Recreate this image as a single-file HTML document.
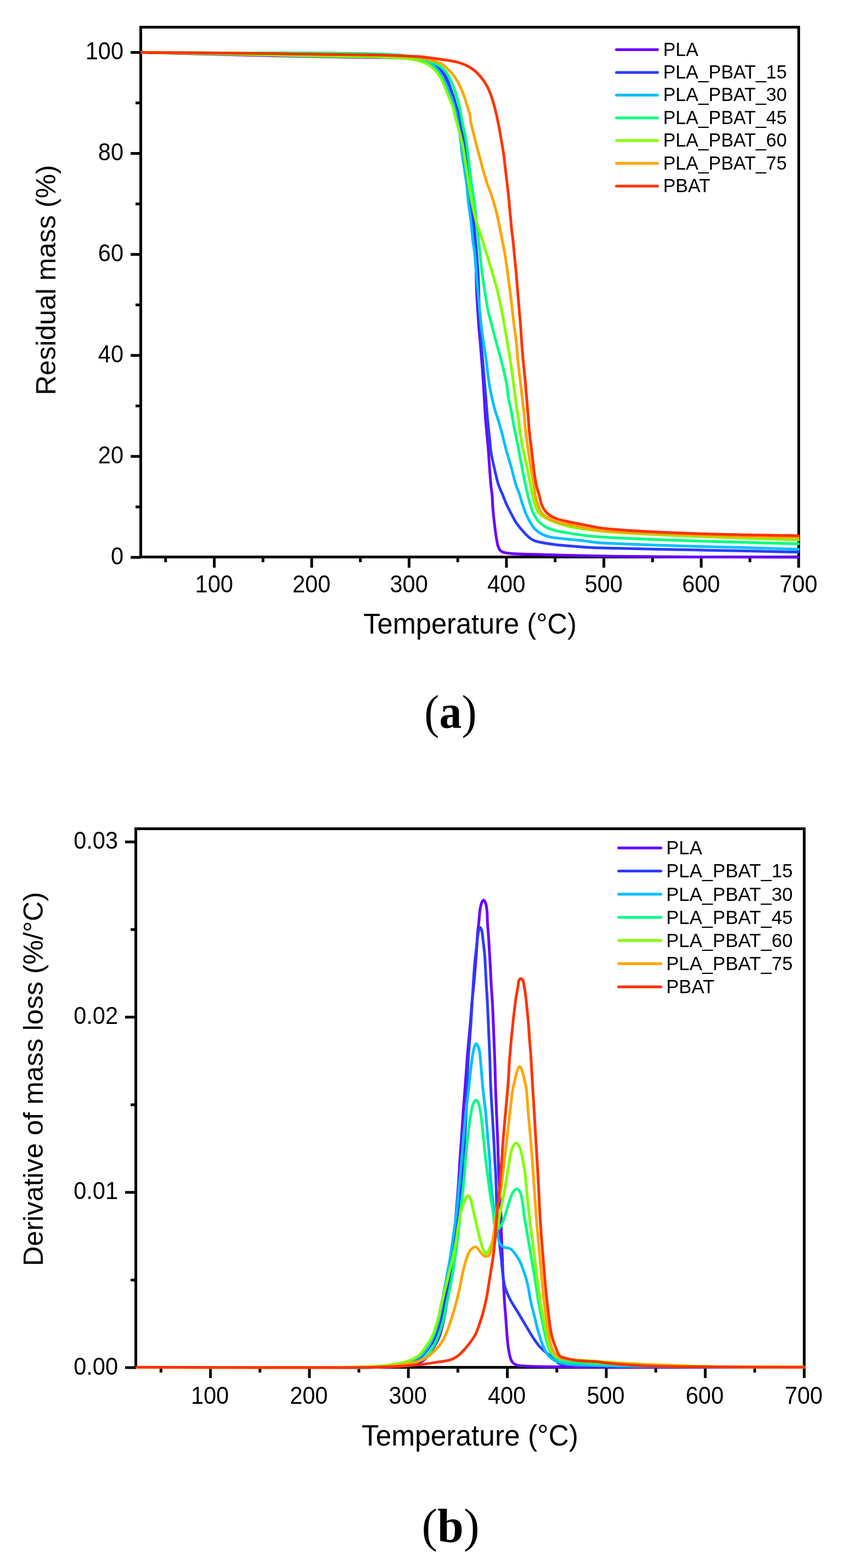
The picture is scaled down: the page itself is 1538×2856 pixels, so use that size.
<!DOCTYPE html>
<html><head><meta charset="utf-8"><title>TGA / DTG of PLA-PBAT blends</title>
<style>html,body{margin:0;padding:0;background:#fff;} svg{display:block;}</style></head>
<body><svg width="1538" height="2856" viewBox="0 0 1538 2856">
<rect width="1538" height="2856" fill="#fff"/>
<line x1="238.00" y1="1015.20" x2="256.50" y2="1015.20" stroke="#000" stroke-width="5" stroke-linecap="butt"/>
<line x1="247.00" y1="923.23" x2="256.50" y2="923.23" stroke="#000" stroke-width="5" stroke-linecap="butt"/>
<line x1="238.00" y1="831.26" x2="256.50" y2="831.26" stroke="#000" stroke-width="5" stroke-linecap="butt"/>
<line x1="247.00" y1="739.29" x2="256.50" y2="739.29" stroke="#000" stroke-width="5" stroke-linecap="butt"/>
<line x1="238.00" y1="647.32" x2="256.50" y2="647.32" stroke="#000" stroke-width="5" stroke-linecap="butt"/>
<line x1="247.00" y1="555.35" x2="256.50" y2="555.35" stroke="#000" stroke-width="5" stroke-linecap="butt"/>
<line x1="238.00" y1="463.38" x2="256.50" y2="463.38" stroke="#000" stroke-width="5" stroke-linecap="butt"/>
<line x1="247.00" y1="371.41" x2="256.50" y2="371.41" stroke="#000" stroke-width="5" stroke-linecap="butt"/>
<line x1="238.00" y1="279.44" x2="256.50" y2="279.44" stroke="#000" stroke-width="5" stroke-linecap="butt"/>
<line x1="247.00" y1="187.47" x2="256.50" y2="187.47" stroke="#000" stroke-width="5" stroke-linecap="butt"/>
<line x1="238.00" y1="95.50" x2="256.50" y2="95.50" stroke="#000" stroke-width="5" stroke-linecap="butt"/>
<line x1="301.76" y1="1014.50" x2="301.76" y2="1024.00" stroke="#000" stroke-width="5" stroke-linecap="butt"/>
<line x1="390.50" y1="1014.50" x2="390.50" y2="1034.00" stroke="#000" stroke-width="5" stroke-linecap="butt"/>
<line x1="479.24" y1="1014.50" x2="479.24" y2="1024.00" stroke="#000" stroke-width="5" stroke-linecap="butt"/>
<line x1="567.97" y1="1014.50" x2="567.97" y2="1034.00" stroke="#000" stroke-width="5" stroke-linecap="butt"/>
<line x1="656.71" y1="1014.50" x2="656.71" y2="1024.00" stroke="#000" stroke-width="5" stroke-linecap="butt"/>
<line x1="745.44" y1="1014.50" x2="745.44" y2="1034.00" stroke="#000" stroke-width="5" stroke-linecap="butt"/>
<line x1="834.17" y1="1014.50" x2="834.17" y2="1024.00" stroke="#000" stroke-width="5" stroke-linecap="butt"/>
<line x1="922.91" y1="1014.50" x2="922.91" y2="1034.00" stroke="#000" stroke-width="5" stroke-linecap="butt"/>
<line x1="1011.64" y1="1014.50" x2="1011.64" y2="1024.00" stroke="#000" stroke-width="5" stroke-linecap="butt"/>
<line x1="1100.38" y1="1014.50" x2="1100.38" y2="1034.00" stroke="#000" stroke-width="5" stroke-linecap="butt"/>
<line x1="1189.12" y1="1014.50" x2="1189.12" y2="1024.00" stroke="#000" stroke-width="5" stroke-linecap="butt"/>
<line x1="1277.85" y1="1014.50" x2="1277.85" y2="1034.00" stroke="#000" stroke-width="5" stroke-linecap="butt"/>
<line x1="1366.59" y1="1014.50" x2="1366.59" y2="1024.00" stroke="#000" stroke-width="5" stroke-linecap="butt"/>
<line x1="1455.32" y1="1014.50" x2="1455.32" y2="1034.00" stroke="#000" stroke-width="5" stroke-linecap="butt"/>
<rect x="256.5" y="49.5" width="1199.0" height="965.0" fill="none" stroke="#000" stroke-width="5" stroke-linejoin="miter"/>
<g fill="none" stroke-width="5" stroke-linejoin="round" stroke-linecap="round">
<path d="M258.5,95.5 C317.7,97.0 376.6,98.7 436.0,100.1 C495.8,101.5 563.5,102.7 616.0,103.7 C656.9,104.4 697.6,104.4 725.0,105.5 C741.6,106.2 753.4,106.1 765.0,108.0 C774.2,109.5 783.1,111.1 789.5,114.5 C794.4,117.1 797.6,120.8 801.0,124.5 C804.4,128.3 807.5,132.7 810.0,137.0 C812.4,141.1 814.1,145.1 816.0,149.5 C818.0,154.1 819.7,159.2 821.5,164.0 C823.2,168.8 825.0,173.6 826.5,178.5 C828.0,183.3 829.1,187.8 830.5,193.0 C832.2,199.1 834.3,206.2 836.0,213.0 C837.8,220.1 839.5,227.5 841.0,235.0 C842.5,242.8 843.8,251.3 845.0,259.0 C846.1,266.2 847.2,273.1 848.0,280.0 C848.8,286.7 849.3,292.4 850.0,300.0 C850.9,310.0 851.9,323.1 853.0,334.6 C854.1,346.1 855.1,357.7 856.5,369.2 C857.9,380.7 860.1,392.3 861.5,403.8 C862.9,415.3 864.1,428.2 865.0,438.4 C865.7,446.4 866.4,451.9 866.8,460.0 C867.3,470.2 867.2,483.1 867.5,494.6 C867.8,506.1 868.0,517.7 868.5,529.2 C869.0,540.7 869.8,552.3 870.5,563.8 C871.2,575.3 872.0,588.2 872.8,598.4 C873.4,606.4 874.1,612.0 874.8,620.0 C875.7,630.2 876.7,642.3 877.7,654.6 C878.8,668.7 880.1,685.9 881.0,700.0 C881.8,712.3 882.3,723.1 883.0,734.6 C883.7,746.1 884.4,757.7 885.3,769.2 C886.2,780.7 887.7,794.4 888.5,803.8 C889.1,810.2 889.4,813.8 889.9,820.0 C890.5,828.3 891.2,839.1 891.9,849.2 C892.7,860.2 893.7,874.4 894.6,883.8 C895.2,890.2 896.0,894.0 896.6,900.0 C897.3,907.6 897.5,917.3 898.2,926.0 C898.9,934.6 899.8,943.3 900.8,951.9 C901.8,960.6 902.9,970.1 904.2,977.9 C905.3,984.3 906.2,990.8 907.7,995.2 C908.7,998.1 909.6,1000.3 911.1,1002.1 C912.5,1003.7 914.0,1004.7 916.3,1005.6 C920.0,1007.1 925.2,1007.5 931.9,1008.2 C944.1,1009.4 966.5,1009.3 983.8,1009.9 C1001.1,1010.5 1016.3,1011.1 1035.7,1011.6 C1060.4,1012.3 1087.4,1012.8 1120.0,1013.3 C1164.9,1013.9 1225.5,1014.2 1280.0,1014.5 C1337.0,1014.8 1396.7,1014.8 1455.0,1015.0" stroke="#6a00ff"/>
<path d="M258.5,95.5 C317.7,96.0 376.3,96.7 436.0,97.0 C496.8,97.3 567.4,96.7 620.0,97.5 C659.6,98.1 698.4,98.5 724.0,100.5 C739.1,101.7 748.6,102.6 760.0,105.0 C770.8,107.3 783.3,110.3 790.8,114.4 C795.9,117.2 798.9,120.5 802.3,124.2 C805.7,128.0 808.5,132.6 811.0,136.9 C813.3,140.9 814.9,144.7 816.7,149.0 C818.6,153.5 820.2,158.6 821.9,163.4 C823.6,168.2 825.6,173.0 827.1,177.9 C828.6,182.7 829.9,188.3 831.1,192.3 C832.0,195.3 832.7,196.6 833.6,200.0 C835.2,206.3 836.9,218.2 838.8,227.2 C840.7,236.3 843.3,245.2 845.0,254.3 C846.7,263.3 847.8,272.4 849.1,281.5 C850.4,290.6 851.8,299.7 852.6,308.7 C853.4,317.4 853.3,325.4 854.0,334.6 C854.9,345.3 856.2,357.7 857.7,369.2 C859.2,380.8 861.6,392.2 863.0,403.8 C864.4,415.3 865.3,428.2 866.3,438.4 C867.1,446.4 867.7,452.0 868.4,460.0 C869.3,470.2 870.4,483.1 871.1,494.6 C871.8,506.1 872.1,517.7 872.5,529.2 C872.8,540.7 872.9,552.3 873.2,563.8 C873.5,575.3 873.8,588.2 874.4,598.4 C874.8,606.4 875.3,612.0 876.0,620.0 C876.9,630.2 878.3,642.3 879.4,654.6 C880.7,668.7 882.1,685.9 883.3,700.0 C884.3,712.3 885.2,723.1 886.1,734.6 C887.1,746.1 887.9,757.7 889.0,769.2 C890.1,780.7 891.9,794.4 892.8,803.8 C893.4,810.2 893.3,813.8 894.2,820.0 C895.4,828.3 897.7,839.1 900.0,849.2 C902.5,860.3 905.5,874.5 908.6,883.8 C910.8,890.3 913.2,894.5 915.5,900.0 C917.8,905.7 919.8,911.6 922.4,917.3 C925.0,923.1 928.0,928.9 931.0,934.6 C934.0,940.4 936.8,946.3 940.6,951.9 C944.6,957.8 950.2,964.5 954.4,969.2 C957.5,972.7 959.9,975.3 963.1,977.9 C966.3,980.5 969.5,983.1 973.4,984.8 C977.5,986.6 982.1,987.2 987.3,988.2 C993.9,989.5 1002.0,990.7 1009.8,991.7 C1018.1,992.8 1026.4,993.5 1035.7,994.3 C1046.4,995.2 1057.7,996.2 1070.3,996.9 C1085.4,997.7 1100.2,998.0 1120.0,998.6 C1149.5,999.4 1191.8,1000.2 1230.0,1001.0 C1271.5,1001.9 1320.1,1002.8 1360.0,1003.6 C1394.1,1004.3 1423.3,1004.9 1455.0,1005.6" stroke="#2b3bff"/>
<path d="M258.5,95.5 C317.7,96.2 376.3,96.8 436.0,97.5 C496.8,98.2 567.4,98.6 620.0,99.5 C659.6,100.2 698.3,100.3 724.0,102.0 C739.1,103.0 749.2,103.4 760.0,106.0 C769.3,108.3 778.5,111.6 785.0,115.6 C789.9,118.6 793.1,122.1 796.5,126.0 C799.9,129.9 802.6,134.8 805.2,139.2 C807.7,143.4 810.0,147.5 812.1,151.9 C814.3,156.5 816.1,161.8 817.9,166.3 C819.5,170.4 821.0,173.8 822.5,177.9 C824.1,182.4 825.7,187.5 827.1,192.3 C828.5,197.1 829.8,201.3 831.1,206.7 C832.7,213.5 834.1,222.1 835.5,230.0 C836.9,238.0 838.2,246.0 839.3,254.3 C840.5,263.1 841.1,272.4 842.3,281.5 C843.5,290.6 845.0,299.6 846.4,308.7 C847.7,317.8 849.2,326.4 850.4,335.9 C851.7,346.4 852.3,358.0 853.6,369.2 C854.9,380.6 856.9,392.3 858.3,403.8 C859.6,415.3 860.5,428.2 861.7,438.4 C862.7,446.5 863.9,451.9 864.8,460.0 C866.0,470.2 866.7,483.1 867.7,494.6 C868.7,506.1 869.6,517.7 870.6,529.2 C871.7,540.7 872.9,552.3 874.0,563.8 C875.2,575.3 876.3,588.2 877.5,598.4 C878.5,606.5 879.4,612.0 880.6,620.0 C882.1,630.2 884.1,642.3 885.8,654.6 C887.8,668.7 889.5,687.4 891.6,700.0 C893.1,709.0 894.5,715.4 896.2,723.1 C897.9,730.8 899.6,738.5 901.7,746.1 C903.9,753.8 906.9,761.5 909.2,769.2 C911.5,776.9 913.6,784.6 915.6,792.3 C917.6,800.0 919.1,806.9 921.3,815.3 C924.0,825.5 927.9,837.8 931.1,849.2 C934.3,860.7 937.4,874.5 940.4,883.8 C942.5,890.3 944.7,894.5 946.6,900.0 C948.5,905.6 949.9,911.6 951.8,917.3 C953.7,923.1 955.5,928.9 957.9,934.6 C960.4,940.4 963.4,946.8 966.5,951.9 C969.2,956.4 971.7,960.5 975.2,964.0 C978.7,967.5 983.0,970.4 987.3,972.7 C991.6,975.0 995.7,976.5 1001.1,977.9 C1008.3,979.7 1017.8,980.2 1027.1,981.3 C1037.8,982.5 1051.0,983.6 1061.7,984.8 C1071.0,985.9 1078.5,987.3 1087.6,988.2 C1097.8,989.1 1106.0,989.4 1120.0,990.0 C1145.8,991.2 1191.8,992.8 1230.0,994.0 C1271.5,995.3 1320.1,996.4 1360.0,997.6 C1394.1,998.6 1423.3,999.5 1455.0,1000.5" stroke="#00bfff"/>
<path d="M258.5,95.5 C317.7,95.8 376.3,96.3 436.0,96.5 C496.8,96.8 567.4,96.2 620.0,97.0 C659.6,97.6 698.4,98.0 724.0,100.0 C739.1,101.2 749.8,102.3 760.0,104.5 C767.7,106.2 773.7,108.6 780.0,110.8 C785.8,112.9 791.6,114.6 796.5,117.3 C800.9,119.8 804.7,122.6 808.1,126.0 C811.5,129.4 814.3,133.6 816.7,137.5 C819.0,141.2 820.6,144.9 822.5,149.0 C824.5,153.5 826.6,158.6 828.3,163.4 C830.0,168.2 831.5,173.1 832.9,177.9 C834.3,182.7 835.5,186.4 836.9,192.3 C839.0,201.4 841.2,216.3 843.4,227.2 C845.3,236.8 847.5,245.2 849.1,254.3 C850.7,263.3 851.7,272.4 852.9,281.5 C854.1,290.6 855.0,299.6 856.1,308.7 C857.2,317.8 858.1,326.4 859.4,335.9 C860.9,346.5 863.2,358.0 864.6,369.2 C866.1,380.6 866.9,392.3 868.1,403.8 C869.4,415.3 870.9,428.2 872.1,438.4 C873.0,446.4 873.6,452.0 874.5,460.0 C875.6,470.2 876.6,483.1 878.1,494.6 C879.6,506.2 881.5,517.7 883.3,529.2 C885.1,540.7 886.6,552.3 889.0,563.8 C891.4,575.4 895.1,588.2 897.7,598.4 C899.8,606.4 901.1,612.0 903.3,620.0 C906.0,630.2 909.8,642.2 912.9,654.6 C916.5,668.7 921.1,687.4 923.3,700.0 C924.9,708.9 924.9,715.4 926.2,723.1 C927.5,730.8 929.6,738.4 931.1,746.1 C932.6,753.8 933.8,761.5 935.2,769.2 C936.7,776.9 938.3,784.6 939.8,792.3 C941.3,800.0 942.8,806.9 944.4,815.3 C946.4,825.5 948.5,837.9 950.7,849.2 C952.9,860.7 955.7,874.4 957.7,883.8 C959.1,890.2 960.0,894.5 961.3,900.0 C962.7,905.7 964.0,911.6 965.7,917.3 C967.4,923.1 969.2,929.3 971.7,934.6 C974.1,939.6 976.9,944.4 980.4,948.5 C983.8,952.5 987.8,956.0 992.5,958.8 C997.5,961.9 1003.4,963.9 1009.8,965.8 C1017.5,968.1 1026.4,969.3 1035.7,970.9 C1046.4,972.8 1057.7,974.7 1070.3,976.1 C1085.3,977.8 1100.2,978.5 1120.0,979.6 C1149.5,981.2 1191.8,982.7 1230.0,984.1 C1271.5,985.6 1320.1,986.9 1360.0,988.0 C1394.1,989.0 1423.3,989.7 1455.0,990.5" stroke="#00ff80"/>
<path d="M258.5,95.5 C317.7,96.7 376.3,97.7 436.0,99.0 C496.8,100.3 577.4,102.5 620.0,103.1 C642.6,103.4 654.6,103.0 671.9,103.4 C689.2,103.8 709.5,104.3 723.8,105.3 C734.0,106.0 741.8,106.6 749.8,107.9 C756.8,109.1 763.2,110.2 769.2,112.4 C774.9,114.5 780.7,117.7 785.0,120.8 C788.5,123.3 790.9,125.7 793.7,128.8 C796.7,132.2 799.8,136.2 802.3,140.4 C805.0,144.8 807.1,150.0 809.2,154.8 C811.3,159.6 813.1,164.4 815.0,169.2 C816.9,174.0 819.0,179.1 820.8,183.6 C822.4,187.7 824.0,190.8 825.4,195.2 C827.1,200.6 828.4,207.8 829.8,213.5 C831.0,218.4 832.1,222.7 833.3,227.2 C834.5,231.7 835.9,236.2 837.2,240.7 C838.5,245.2 839.8,249.7 840.9,254.3 C842.0,258.8 842.8,263.4 843.7,268.0 C844.6,272.5 845.2,276.2 846.1,281.5 C847.3,289.0 848.8,299.6 850.2,308.7 C851.6,317.8 853.0,326.4 854.5,335.9 C856.2,346.4 857.8,358.0 860.0,369.2 C862.3,380.7 864.9,392.3 868.1,403.8 C871.4,415.4 876.4,428.2 879.6,438.4 C882.1,446.4 883.6,452.0 886.0,460.0 C889.1,470.2 893.1,483.1 896.5,494.6 C899.9,506.1 903.4,517.6 906.3,529.2 C909.2,540.7 911.5,552.2 913.8,563.8 C916.1,575.3 918.4,588.2 920.2,598.4 C921.6,606.4 922.5,612.0 923.8,620.0 C925.5,630.2 927.7,642.3 929.6,654.6 C931.8,668.7 934.3,687.4 936.0,700.0 C937.2,709.0 937.9,715.4 938.9,723.1 C939.9,730.8 941.0,738.4 942.1,746.1 C943.2,753.8 944.4,761.5 945.5,769.2 C946.5,776.9 947.2,784.7 948.4,792.3 C949.6,799.8 950.9,806.4 952.5,814.6 C954.6,824.9 957.6,837.7 960.0,849.2 C962.4,860.7 965.1,874.4 966.9,883.8 C968.2,890.2 968.8,894.5 970.0,900.0 C971.3,905.7 972.3,911.6 974.3,917.3 C976.3,923.2 978.8,930.4 982.1,934.6 C984.6,937.8 987.6,939.5 990.7,941.5 C993.9,943.6 996.4,945.0 1001.0,947.0 C1009.1,950.5 1022.8,955.4 1035.7,958.5 C1051.1,962.2 1072.3,964.6 1087.6,966.5 C1099.6,968.0 1105.1,968.4 1120.0,969.5 C1153.1,971.9 1225.5,975.3 1280.0,977.6 C1337.0,980.0 1396.7,981.5 1455.0,983.5" stroke="#80ff00"/>
<path d="M258.5,95.5 C317.7,96.0 376.3,96.4 436.0,97.0 C496.8,97.6 567.4,98.3 620.0,99.2 C659.6,99.9 698.3,100.3 724.0,101.5 C739.1,102.2 749.1,102.4 760.0,104.0 C769.2,105.4 777.5,107.8 785.0,109.8 C791.3,111.5 797.3,112.5 802.3,115.0 C806.7,117.2 810.1,120.3 813.8,123.6 C817.8,127.2 822.0,131.5 825.4,135.8 C828.7,140.0 831.5,144.7 834.0,149.0 C836.3,152.9 837.9,156.5 839.8,160.6 C841.8,165.1 843.8,169.9 845.6,175.0 C847.6,180.5 849.5,186.5 851.3,192.3 C853.1,198.1 855.3,204.6 856.4,210.0 C857.3,214.5 857.1,218.1 857.9,222.6 C858.9,228.0 860.6,233.8 862.1,240.0 C863.9,247.2 866.0,255.5 868.0,263.3 C870.0,271.1 872.1,278.8 874.2,286.6 C876.3,294.4 878.2,302.2 880.4,309.9 C882.6,317.7 884.8,325.5 887.4,333.2 C890.0,341.0 893.3,348.7 895.9,356.5 C898.5,364.2 900.8,372.0 902.9,379.8 C905.0,387.5 906.6,395.2 908.3,403.0 C910.0,410.7 911.7,419.6 913.0,426.3 C914.0,431.5 914.7,435.0 915.7,440.0 C916.9,446.0 918.3,452.4 919.6,460.0 C921.3,469.9 923.2,483.1 924.8,494.6 C926.4,506.1 928.0,517.7 929.4,529.2 C930.8,540.7 932.1,552.3 933.4,563.8 C934.8,575.3 936.2,588.2 937.5,598.4 C938.6,606.5 939.7,611.9 940.6,620.0 C941.7,630.2 942.3,643.1 943.4,654.6 C944.6,666.1 946.1,677.7 947.5,689.2 C948.8,700.7 950.2,712.3 951.5,723.8 C952.8,735.3 954.5,748.2 955.5,758.4 C956.3,766.4 956.3,772.0 957.1,780.0 C958.2,790.2 960.1,803.1 961.7,814.6 C963.3,826.1 965.1,837.7 966.9,849.2 C968.7,860.7 971.2,874.4 972.7,883.8 C973.7,890.2 974.1,894.5 975.2,900.0 C976.3,905.7 977.5,911.6 979.5,917.3 C981.5,923.2 983.6,929.9 987.3,934.6 C990.9,939.1 996.0,942.1 1001.1,945.0 C1006.4,948.0 1012.0,950.0 1018.4,951.9 C1026.1,954.2 1035.1,955.2 1044.4,957.1 C1055.1,959.2 1066.9,962.2 1079.0,964.0 C1092.0,966.0 1103.0,967.1 1120.0,968.4 C1147.8,970.5 1191.8,971.7 1230.0,973.2 C1271.5,974.8 1320.1,976.6 1360.0,977.6 C1394.1,978.4 1423.3,978.5 1455.0,979.0" stroke="#ffa500"/>
<path d="M258.5,95.5 C317.7,96.0 376.3,96.3 436.0,97.0 C496.8,97.7 577.4,99.0 620.0,99.5 C642.6,99.8 654.7,99.8 672.0,100.1 C689.3,100.4 707.9,100.8 724.0,101.4 C737.9,101.9 751.9,102.3 763.0,103.1 C771.4,103.7 777.6,104.6 785.0,105.5 C792.6,106.4 800.4,107.5 808.1,108.7 C815.8,109.9 824.0,110.9 831.1,112.7 C837.3,114.3 842.8,115.9 848.4,118.5 C854.2,121.2 860.5,125.2 865.0,128.8 C868.6,131.6 870.8,134.2 873.7,137.5 C877.1,141.3 880.8,145.7 883.8,150.5 C887.1,155.7 889.9,161.6 892.5,167.8 C895.3,174.5 897.6,182.0 899.7,189.4 C901.9,196.9 903.8,204.9 905.5,212.5 C907.1,219.8 908.4,226.7 909.8,234.1 C911.3,242.0 912.7,250.7 914.1,258.6 C915.4,266.0 916.7,273.1 917.7,280.2 C918.7,286.9 919.2,293.4 920.0,300.0 C920.8,306.7 921.7,313.3 922.5,320.0 C923.3,326.7 924.0,333.5 924.8,340.2 C925.5,346.9 926.3,353.7 927.0,360.4 C927.7,367.1 928.2,373.9 928.8,380.6 C929.4,387.3 930.2,394.1 930.8,400.8 C931.4,407.5 931.9,414.4 932.6,421.0 C933.3,427.4 934.4,433.6 935.1,440.0 C935.8,446.6 936.2,452.4 936.9,460.0 C937.9,470.0 939.3,483.1 940.4,494.6 C941.4,506.1 942.3,517.7 943.2,529.2 C944.2,540.7 945.1,552.3 946.1,563.8 C947.1,575.3 948.2,588.2 949.0,598.4 C949.6,606.4 949.8,612.0 950.4,620.0 C951.1,630.2 952.2,643.1 953.2,654.6 C954.3,666.1 955.6,677.7 956.7,689.2 C957.8,700.7 958.6,712.3 959.6,723.8 C960.6,735.3 961.7,748.2 962.5,758.4 C963.1,766.4 963.3,772.0 964.0,780.0 C964.9,790.2 966.7,803.1 968.0,814.6 C969.4,826.1 970.6,837.7 972.1,849.2 C973.7,860.7 975.2,874.5 977.3,883.8 C978.7,890.3 980.6,894.5 982.1,900.0 C983.6,905.7 984.5,912.1 986.4,917.3 C988.1,921.8 990.0,925.9 992.5,929.4 C994.9,932.8 997.6,935.6 1001.1,938.1 C1005.0,940.9 1009.8,943.1 1015.0,945.0 C1021.1,947.3 1028.4,948.6 1035.7,950.2 C1043.9,952.0 1053.0,953.7 1061.7,955.4 C1070.3,957.1 1078.5,959.2 1087.6,960.6 C1097.8,962.2 1106.0,963.1 1120.0,964.3 C1145.8,966.5 1191.8,969.0 1230.0,970.6 C1271.5,972.4 1320.1,973.4 1360.0,974.3 C1394.1,975.1 1423.3,975.3 1455.0,975.8" stroke="#ff3300"/>
</g>
<text transform="translate(225.00,1027.50) scale(1.0,1.05)" x="0" y="0" font-size="41.5" text-anchor="end" style="font-family:'Liberation Sans',Arial,sans-serif;font-weight:normal" >0</text>
<text transform="translate(225.00,843.56) scale(1.0,1.05)" x="0" y="0" font-size="41.5" text-anchor="end" style="font-family:'Liberation Sans',Arial,sans-serif;font-weight:normal" >20</text>
<text transform="translate(225.00,659.62) scale(1.0,1.05)" x="0" y="0" font-size="41.5" text-anchor="end" style="font-family:'Liberation Sans',Arial,sans-serif;font-weight:normal" >40</text>
<text transform="translate(225.00,475.68) scale(1.0,1.05)" x="0" y="0" font-size="41.5" text-anchor="end" style="font-family:'Liberation Sans',Arial,sans-serif;font-weight:normal" >60</text>
<text transform="translate(225.00,291.74) scale(1.0,1.05)" x="0" y="0" font-size="41.5" text-anchor="end" style="font-family:'Liberation Sans',Arial,sans-serif;font-weight:normal" >80</text>
<text transform="translate(225.00,107.80) scale(1.0,1.05)" x="0" y="0" font-size="41.5" text-anchor="end" style="font-family:'Liberation Sans',Arial,sans-serif;font-weight:normal" >100</text>
<text transform="translate(390.20,1078.70) scale(1.0,1.05)" x="0" y="0" font-size="41.5" text-anchor="middle" style="font-family:'Liberation Sans',Arial,sans-serif;font-weight:normal" >100</text>
<text transform="translate(567.67,1078.70) scale(1.0,1.05)" x="0" y="0" font-size="41.5" text-anchor="middle" style="font-family:'Liberation Sans',Arial,sans-serif;font-weight:normal" >200</text>
<text transform="translate(745.14,1078.70) scale(1.0,1.05)" x="0" y="0" font-size="41.5" text-anchor="middle" style="font-family:'Liberation Sans',Arial,sans-serif;font-weight:normal" >300</text>
<text transform="translate(922.61,1078.70) scale(1.0,1.05)" x="0" y="0" font-size="41.5" text-anchor="middle" style="font-family:'Liberation Sans',Arial,sans-serif;font-weight:normal" >400</text>
<text transform="translate(1100.08,1078.70) scale(1.0,1.05)" x="0" y="0" font-size="41.5" text-anchor="middle" style="font-family:'Liberation Sans',Arial,sans-serif;font-weight:normal" >500</text>
<text transform="translate(1277.55,1078.70) scale(1.0,1.05)" x="0" y="0" font-size="41.5" text-anchor="middle" style="font-family:'Liberation Sans',Arial,sans-serif;font-weight:normal" >600</text>
<text transform="translate(1455.02,1078.70) scale(1.0,1.05)" x="0" y="0" font-size="41.5" text-anchor="middle" style="font-family:'Liberation Sans',Arial,sans-serif;font-weight:normal" >700</text>
<text transform="translate(856.50,1153.80) scale(1.0,1.015)" x="0" y="0" font-size="50.6" text-anchor="middle" style="font-family:'Liberation Sans',Arial,sans-serif;font-weight:normal" >Temperature (°C)</text>
<text x="0.00" y="0.00" font-size="50" text-anchor="middle" style="font-family:'Liberation Sans',Arial,sans-serif;font-weight:normal" transform="translate(101,510) rotate(-90)">Residual mass (%)</text>
<line x1="1123.30" y1="90.50" x2="1198.20" y2="90.50" stroke="#6a00ff" stroke-width="5" stroke-linecap="round"/>
<text transform="translate(1208.50,101.50) scale(1.0,1.02)" x="0" y="0" font-size="33.87" text-anchor="start" style="font-family:'Liberation Sans',Arial,sans-serif;font-weight:normal" >PLA</text>
<line x1="1123.30" y1="131.90" x2="1198.20" y2="131.90" stroke="#2b3bff" stroke-width="5" stroke-linecap="round"/>
<text transform="translate(1208.50,142.90) scale(1.0,1.02)" x="0" y="0" font-size="33.87" text-anchor="start" style="font-family:'Liberation Sans',Arial,sans-serif;font-weight:normal" >PLA_PBAT_15</text>
<line x1="1123.30" y1="173.30" x2="1198.20" y2="173.30" stroke="#00bfff" stroke-width="5" stroke-linecap="round"/>
<text transform="translate(1208.50,184.30) scale(1.0,1.02)" x="0" y="0" font-size="33.87" text-anchor="start" style="font-family:'Liberation Sans',Arial,sans-serif;font-weight:normal" >PLA_PBAT_30</text>
<line x1="1123.30" y1="214.70" x2="1198.20" y2="214.70" stroke="#00ff80" stroke-width="5" stroke-linecap="round"/>
<text transform="translate(1208.50,225.70) scale(1.0,1.02)" x="0" y="0" font-size="33.87" text-anchor="start" style="font-family:'Liberation Sans',Arial,sans-serif;font-weight:normal" >PLA_PBAT_45</text>
<line x1="1123.30" y1="256.10" x2="1198.20" y2="256.10" stroke="#80ff00" stroke-width="5" stroke-linecap="round"/>
<text transform="translate(1208.50,267.10) scale(1.0,1.02)" x="0" y="0" font-size="33.87" text-anchor="start" style="font-family:'Liberation Sans',Arial,sans-serif;font-weight:normal" >PLA_PBAT_60</text>
<line x1="1123.30" y1="297.50" x2="1198.20" y2="297.50" stroke="#ffa500" stroke-width="5" stroke-linecap="round"/>
<text transform="translate(1208.50,308.50) scale(1.0,1.02)" x="0" y="0" font-size="33.87" text-anchor="start" style="font-family:'Liberation Sans',Arial,sans-serif;font-weight:normal" >PLA_PBAT_75</text>
<line x1="1123.30" y1="338.90" x2="1198.20" y2="338.90" stroke="#ff3300" stroke-width="5" stroke-linecap="round"/>
<text transform="translate(1208.50,349.90) scale(1.0,1.02)" x="0" y="0" font-size="33.87" text-anchor="start" style="font-family:'Liberation Sans',Arial,sans-serif;font-weight:normal" >PBAT</text>
<text transform="translate(821,1326) scale(0.95,1)" x="0" y="0" font-size="86" text-anchor="middle" style="font-family:'Liberation Serif','Times New Roman',serif">(<tspan style="font-weight:bold">a</tspan>)</text>
<line x1="228.00" y1="2491.00" x2="247.50" y2="2491.00" stroke="#000" stroke-width="5" stroke-linecap="butt"/>
<line x1="238.00" y1="2331.41" x2="247.50" y2="2331.41" stroke="#000" stroke-width="5" stroke-linecap="butt"/>
<line x1="228.00" y1="2171.83" x2="247.50" y2="2171.83" stroke="#000" stroke-width="5" stroke-linecap="butt"/>
<line x1="238.00" y1="2012.24" x2="247.50" y2="2012.24" stroke="#000" stroke-width="5" stroke-linecap="butt"/>
<line x1="228.00" y1="1852.66" x2="247.50" y2="1852.66" stroke="#000" stroke-width="5" stroke-linecap="butt"/>
<line x1="238.00" y1="1693.07" x2="247.50" y2="1693.07" stroke="#000" stroke-width="5" stroke-linecap="butt"/>
<line x1="228.00" y1="1533.49" x2="247.50" y2="1533.49" stroke="#000" stroke-width="5" stroke-linecap="butt"/>
<line x1="293.34" y1="2490.50" x2="293.34" y2="2500.00" stroke="#000" stroke-width="5" stroke-linecap="butt"/>
<line x1="383.50" y1="2490.50" x2="383.50" y2="2510.00" stroke="#000" stroke-width="5" stroke-linecap="butt"/>
<line x1="473.67" y1="2490.50" x2="473.67" y2="2500.00" stroke="#000" stroke-width="5" stroke-linecap="butt"/>
<line x1="563.84" y1="2490.50" x2="563.84" y2="2510.00" stroke="#000" stroke-width="5" stroke-linecap="butt"/>
<line x1="654.00" y1="2490.50" x2="654.00" y2="2500.00" stroke="#000" stroke-width="5" stroke-linecap="butt"/>
<line x1="744.17" y1="2490.50" x2="744.17" y2="2510.00" stroke="#000" stroke-width="5" stroke-linecap="butt"/>
<line x1="834.34" y1="2490.50" x2="834.34" y2="2500.00" stroke="#000" stroke-width="5" stroke-linecap="butt"/>
<line x1="924.50" y1="2490.50" x2="924.50" y2="2510.00" stroke="#000" stroke-width="5" stroke-linecap="butt"/>
<line x1="1014.67" y1="2490.50" x2="1014.67" y2="2500.00" stroke="#000" stroke-width="5" stroke-linecap="butt"/>
<line x1="1104.84" y1="2490.50" x2="1104.84" y2="2510.00" stroke="#000" stroke-width="5" stroke-linecap="butt"/>
<line x1="1195.00" y1="2490.50" x2="1195.00" y2="2500.00" stroke="#000" stroke-width="5" stroke-linecap="butt"/>
<line x1="1285.17" y1="2490.50" x2="1285.17" y2="2510.00" stroke="#000" stroke-width="5" stroke-linecap="butt"/>
<line x1="1375.33" y1="2490.50" x2="1375.33" y2="2500.00" stroke="#000" stroke-width="5" stroke-linecap="butt"/>
<line x1="1465.50" y1="2490.50" x2="1465.50" y2="2510.00" stroke="#000" stroke-width="5" stroke-linecap="butt"/>
<rect x="247.5" y="1509.5" width="1218.0" height="981.0" fill="none" stroke="#000" stroke-width="5" stroke-linejoin="miter"/>
<g fill="none" stroke-width="5" stroke-linejoin="round" stroke-linecap="round">
<path d="M250.0,2490.5 C366.7,2490.5 518.7,2490.7 600.0,2490.5 C643.4,2490.4 674.2,2490.7 700.0,2490.0 C716.3,2489.6 729.0,2489.2 740.0,2488.0 C747.8,2487.1 754.0,2486.8 760.0,2484.5 C765.6,2482.3 770.5,2479.1 775.0,2475.0 C779.9,2470.5 784.0,2464.3 788.0,2458.0 C792.4,2451.1 796.9,2443.7 800.2,2435.3 C803.9,2425.9 806.4,2414.5 808.7,2404.2 C810.9,2394.4 812.4,2384.4 814.0,2375.0 C815.5,2366.4 816.9,2358.7 818.0,2350.0 C819.2,2340.5 819.9,2330.0 821.0,2320.0 C822.1,2310.0 823.4,2300.7 824.5,2290.0 C825.8,2277.6 826.8,2263.9 828.0,2250.0 C829.3,2234.7 830.7,2216.3 831.8,2202.0 C832.7,2190.5 833.5,2181.3 834.3,2171.0 C835.1,2160.7 835.9,2150.0 836.5,2140.0 C837.1,2130.7 837.4,2123.0 838.0,2113.0 C838.8,2100.3 840.1,2084.2 841.1,2069.8 C842.1,2055.4 843.0,2040.9 844.0,2026.5 C845.0,2012.1 846.2,1997.7 847.3,1983.3 C848.4,1968.9 849.6,1952.7 850.5,1940.0 C851.2,1929.9 851.7,1923.0 852.5,1913.0 C853.6,1900.3 855.3,1884.2 856.5,1869.8 C857.8,1855.4 858.8,1840.1 860.0,1826.5 C861.1,1814.3 862.3,1805.2 863.5,1791.8 C865.2,1773.5 867.6,1743.5 868.8,1726.6 C869.5,1715.8 869.6,1708.2 870.3,1700.0 C870.9,1692.9 871.7,1687.1 872.5,1680.0 C873.3,1672.0 874.0,1661.0 875.1,1654.6 C875.8,1650.6 876.4,1647.7 877.5,1645.0 C878.4,1642.8 879.8,1639.4 881.0,1639.4 C882.3,1639.4 884.0,1642.5 885.0,1645.0 C886.5,1648.7 886.9,1654.6 887.5,1660.0 C888.1,1666.2 887.9,1673.1 888.3,1680.0 C888.7,1687.4 889.5,1695.3 890.0,1703.0 C890.5,1710.8 891.0,1718.2 891.5,1726.6 C892.1,1736.1 892.7,1746.7 893.3,1757.0 C893.9,1767.8 894.3,1778.7 894.9,1790.0 C895.6,1801.9 896.6,1813.8 897.3,1826.5 C898.1,1840.3 898.6,1855.4 899.2,1869.8 C899.8,1884.2 900.4,1900.3 900.9,1913.0 C901.3,1923.1 901.6,1929.9 901.9,1940.0 C902.3,1952.7 902.6,1968.9 903.1,1983.3 C903.6,1997.7 904.2,2012.1 904.8,2026.5 C905.4,2040.9 906.1,2055.4 906.7,2069.8 C907.2,2084.2 907.7,2100.3 908.1,2113.0 C908.4,2123.1 908.6,2130.1 909.0,2140.0 C909.5,2152.0 910.3,2167.2 911.0,2180.0 C911.6,2192.0 912.6,2204.0 913.0,2214.6 C913.4,2223.7 913.3,2231.4 913.5,2240.0 C913.7,2248.7 914.1,2257.5 914.4,2266.5 C914.8,2275.9 915.2,2286.1 915.6,2295.3 C915.9,2303.8 916.1,2312.2 916.5,2320.0 C916.8,2327.0 917.3,2332.7 917.7,2340.0 C918.2,2348.7 918.6,2359.2 919.2,2368.8 C919.8,2378.4 920.8,2388.1 921.5,2397.7 C922.2,2407.3 922.7,2416.9 923.5,2426.5 C924.3,2436.1 925.0,2446.7 926.4,2455.4 C927.6,2462.7 928.8,2470.6 930.7,2475.5 C931.9,2478.6 933.1,2480.7 935.0,2482.5 C936.9,2484.3 939.0,2485.5 942.0,2486.5 C946.4,2487.9 952.5,2487.8 959.6,2488.3 C970.3,2489.0 981.4,2489.2 1000.0,2489.5 C1041.3,2490.2 1128.7,2490.1 1200.0,2490.3 C1282.1,2490.5 1376.7,2490.4 1465.0,2490.5" stroke="#6a00ff"/>
<path d="M250.0,2490.5 C366.7,2490.5 518.7,2490.9 600.0,2490.5 C643.4,2490.3 674.2,2491.8 700.0,2489.5 C716.4,2488.0 730.7,2484.9 740.0,2482.7 C745.0,2481.5 747.4,2480.9 751.5,2479.2 C756.8,2477.0 763.8,2474.0 768.8,2470.0 C773.8,2466.0 777.5,2460.5 781.5,2455.0 C785.9,2449.0 790.4,2442.9 794.0,2435.3 C798.2,2426.3 801.5,2414.6 804.2,2404.2 C806.9,2393.9 808.3,2383.6 810.4,2373.2 C812.5,2362.8 814.5,2353.2 816.6,2342.0 C819.1,2329.0 822.4,2313.5 824.3,2300.0 C826.1,2287.6 826.6,2275.5 828.0,2264.0 C829.3,2253.3 830.9,2243.5 832.3,2233.2 C833.7,2222.8 835.1,2212.4 836.3,2202.0 C837.5,2191.7 838.3,2181.3 839.4,2171.0 C840.5,2160.7 841.9,2151.6 842.9,2140.0 C844.2,2125.3 845.0,2107.4 846.0,2090.0 C847.1,2070.9 848.6,2048.0 849.5,2030.0 C850.2,2015.3 850.5,2004.1 851.0,1990.0 C851.5,1974.3 851.9,1954.1 852.6,1940.0 C853.1,1929.6 853.8,1923.1 854.5,1913.0 C855.4,1900.3 856.7,1884.2 857.7,1869.8 C858.7,1855.4 859.5,1840.1 860.3,1826.5 C861.0,1814.3 861.6,1803.9 862.4,1791.8 C863.3,1778.5 864.4,1761.9 865.5,1750.0 C866.3,1741.1 867.3,1734.2 868.2,1726.6 C869.0,1719.5 869.6,1711.9 870.5,1706.0 C871.1,1701.6 871.6,1697.5 872.6,1694.5 C873.3,1692.4 874.1,1689.5 875.0,1689.5 C875.9,1689.5 877.3,1692.7 878.0,1695.0 C879.0,1698.1 879.0,1702.1 879.5,1706.5 C880.2,1712.3 881.2,1720.6 881.9,1726.6 C882.5,1731.5 882.8,1734.1 883.3,1740.0 C884.2,1751.6 885.2,1776.3 886.1,1791.8 C886.8,1804.5 887.6,1814.3 888.2,1826.5 C888.9,1840.1 889.5,1855.4 890.1,1869.8 C890.7,1884.2 891.5,1900.3 892.0,1913.0 C892.4,1923.1 892.7,1929.9 893.0,1940.0 C893.4,1952.7 893.7,1968.9 894.4,1983.3 C895.0,1997.7 896.1,2012.1 896.9,2026.5 C897.8,2040.9 898.7,2055.4 899.5,2069.8 C900.3,2084.2 901.0,2100.3 901.7,2113.0 C902.3,2123.1 902.9,2130.1 903.4,2140.0 C904.0,2152.0 904.3,2168.2 904.6,2180.0 C904.9,2189.3 904.8,2196.3 905.2,2205.0 C905.7,2214.6 906.6,2226.0 907.5,2235.0 C908.2,2242.3 909.2,2248.6 909.8,2255.0 C910.3,2260.9 910.4,2265.9 911.0,2272.0 C911.7,2279.1 913.0,2287.6 913.8,2295.0 C914.5,2301.8 914.7,2307.4 915.6,2314.5 C916.6,2323.0 917.4,2333.8 919.8,2342.6 C922.0,2350.9 925.3,2358.3 929.1,2365.9 C933.0,2373.8 938.4,2381.4 943.1,2389.2 C947.7,2397.0 952.4,2404.7 957.0,2412.5 C961.7,2420.3 966.1,2428.6 971.0,2435.8 C975.5,2442.5 979.8,2448.9 985.0,2454.4 C990.0,2459.7 996.2,2464.7 1001.3,2468.4 C1005.4,2471.3 1010.2,2472.6 1012.9,2475.4 C1015.1,2477.6 1014.4,2481.0 1017.2,2482.8 C1022.3,2486.1 1034.9,2484.8 1046.0,2485.6 C1061.2,2486.7 1076.3,2487.4 1100.0,2488.0 C1145.6,2489.2 1236.5,2489.6 1300.0,2490.0 C1357.6,2490.4 1410.0,2490.3 1465.0,2490.5" stroke="#2b3bff"/>
<path d="M250.0,2490.5 C366.7,2490.5 521.5,2490.7 600.0,2490.5 C639.8,2490.4 664.5,2492.2 690.0,2490.0 C709.2,2488.3 726.2,2485.6 740.0,2481.5 C750.3,2478.4 759.2,2475.0 766.0,2470.0 C771.7,2465.8 775.2,2460.6 779.0,2455.0 C783.0,2449.1 786.1,2442.8 789.2,2435.3 C793.0,2426.2 796.8,2414.7 799.4,2404.2 C802.0,2393.9 803.1,2383.5 805.0,2373.2 C806.9,2362.8 809.2,2351.5 811.0,2342.0 C812.5,2334.0 813.6,2327.5 815.0,2320.0 C816.5,2312.0 818.1,2304.0 819.6,2295.3 C821.2,2285.5 822.7,2274.6 824.2,2264.2 C825.7,2253.9 827.2,2243.6 828.6,2233.2 C830.0,2222.8 831.5,2212.4 832.6,2202.0 C833.7,2191.7 834.4,2181.3 835.4,2171.0 C836.4,2160.7 837.5,2150.0 838.5,2140.0 C839.4,2130.7 840.2,2123.1 841.1,2113.0 C842.2,2100.3 843.4,2084.2 844.7,2069.8 C846.0,2055.4 847.4,2040.9 849.0,2026.5 C850.6,2012.1 852.5,1997.7 854.1,1983.3 C855.7,1968.9 857.1,1952.4 858.7,1940.0 C859.9,1930.5 861.1,1921.5 862.5,1915.0 C863.4,1910.7 864.3,1907.0 865.5,1904.5 C866.2,1903.0 867.0,1901.1 867.8,1901.1 C868.6,1901.1 869.7,1903.0 870.5,1904.5 C871.7,1906.6 872.7,1909.3 873.5,1913.0 C875.0,1919.4 875.4,1929.9 876.4,1940.0 C877.6,1952.7 878.6,1968.9 880.0,1983.3 C881.5,1997.7 883.6,2012.1 885.1,2026.5 C886.5,2040.9 887.5,2055.4 888.7,2069.8 C889.9,2084.2 891.5,2100.3 892.3,2113.0 C892.9,2123.0 892.8,2129.7 893.5,2140.0 C894.5,2153.6 896.6,2173.3 898.2,2187.6 C899.5,2199.2 900.6,2209.5 902.1,2219.3 C903.4,2227.9 905.4,2237.4 906.3,2243.4 C906.9,2247.0 907.0,2249.1 907.5,2252.0 C908.0,2255.0 908.1,2258.1 909.2,2261.0 C910.4,2264.0 912.3,2267.5 914.4,2269.4 C916.1,2270.9 918.3,2271.7 920.2,2272.3 C921.8,2272.8 923.2,2272.5 924.8,2272.9 C926.8,2273.4 929.1,2273.8 931.1,2275.2 C933.7,2277.0 936.2,2280.6 938.6,2283.8 C941.2,2287.3 943.8,2291.0 946.1,2295.3 C948.7,2300.1 950.8,2305.7 952.9,2311.3 C955.2,2317.3 957.5,2324.1 959.2,2330.3 C960.8,2336.0 961.8,2341.0 963.0,2347.0 C964.4,2353.8 965.2,2361.1 966.8,2368.8 C968.7,2377.8 971.6,2388.1 974.0,2397.7 C976.4,2407.3 978.3,2417.0 981.2,2426.5 C984.1,2436.2 987.6,2447.6 991.3,2455.4 C994.0,2461.2 996.4,2465.9 999.9,2469.8 C1003.2,2473.4 1006.9,2476.1 1011.5,2478.4 C1017.1,2481.2 1022.9,2482.7 1031.7,2484.2 C1047.6,2486.8 1071.3,2486.6 1100.0,2487.5 C1149.2,2489.0 1236.5,2489.5 1300.0,2490.0 C1357.6,2490.4 1410.0,2490.3 1465.0,2490.5" stroke="#00bfff"/>
<path d="M250.0,2490.5 C366.7,2490.5 524.5,2491.0 600.0,2490.5 C636.1,2490.3 655.3,2490.7 680.0,2489.5 C701.5,2488.5 726.1,2486.2 740.0,2484.4 C747.5,2483.5 751.7,2483.4 757.3,2481.5 C763.2,2479.5 769.5,2476.5 774.6,2472.3 C780.0,2467.8 784.5,2461.2 788.4,2455.0 C792.3,2448.8 795.0,2442.7 798.0,2435.3 C801.6,2426.2 805.3,2414.6 808.0,2404.2 C810.7,2393.9 812.1,2383.5 814.2,2373.2 C816.3,2362.8 818.7,2352.4 820.7,2342.0 C822.7,2331.7 824.9,2319.6 826.3,2311.0 C827.3,2304.9 827.7,2301.4 828.6,2295.3 C829.8,2286.7 831.6,2274.6 832.9,2264.2 C834.2,2253.9 835.5,2243.6 836.6,2233.2 C837.7,2222.8 838.4,2212.4 839.5,2202.0 C840.6,2191.6 842.1,2181.3 843.2,2171.0 C844.3,2160.7 845.4,2150.0 846.3,2140.0 C847.1,2130.7 847.4,2123.0 848.3,2113.0 C849.4,2100.3 850.9,2084.2 852.6,2069.8 C854.3,2055.4 856.3,2037.5 858.4,2026.5 C859.7,2019.7 860.5,2014.0 862.5,2010.0 C863.9,2007.2 865.9,2003.8 867.5,2003.8 C869.1,2003.8 870.8,2007.3 872.0,2010.0 C873.8,2014.0 874.5,2019.7 875.7,2026.5 C877.6,2037.5 879.1,2055.4 880.7,2069.8 C882.3,2084.2 883.7,2100.3 885.1,2113.0 C886.2,2123.1 887.2,2130.1 888.5,2140.0 C890.1,2152.0 892.0,2167.8 893.9,2180.0 C895.5,2190.4 897.5,2199.7 898.8,2208.8 C899.9,2216.9 899.9,2226.6 901.4,2231.9 C902.2,2234.9 903.1,2237.7 904.5,2238.5 C905.5,2239.0 906.9,2238.4 908.0,2238.0 C909.1,2237.6 910.0,2237.1 911.0,2236.0 C912.7,2234.1 914.5,2229.9 916.1,2226.1 C918.2,2221.2 920.1,2214.6 921.9,2208.8 C923.7,2203.0 925.1,2197.3 927.1,2191.5 C929.2,2185.4 931.0,2177.6 934.0,2173.0 C936.2,2169.6 939.4,2165.4 941.8,2165.5 C944.0,2165.5 946.4,2168.9 948.0,2172.0 C950.5,2176.7 951.3,2185.6 952.5,2192.6 C953.7,2199.7 953.9,2205.5 955.2,2214.3 C957.3,2228.4 961.4,2250.6 964.5,2268.7 C967.6,2286.8 970.7,2304.9 973.7,2323.0 C976.7,2341.1 979.1,2359.3 982.4,2377.4 C985.7,2395.5 989.9,2417.3 993.3,2431.7 C995.6,2441.3 997.0,2448.6 999.9,2455.4 C1002.3,2461.0 1004.7,2466.0 1008.6,2469.8 C1012.4,2473.6 1017.5,2476.4 1023.0,2478.4 C1029.4,2480.6 1036.0,2480.6 1045.0,2481.5 C1059.2,2482.9 1078.9,2483.6 1100.0,2484.5 C1128.4,2485.7 1166.7,2486.7 1200.0,2487.5 C1233.3,2488.3 1262.5,2489.0 1300.0,2489.5 C1348.1,2490.1 1410.0,2490.0 1465.0,2490.3" stroke="#00ff80"/>
<path d="M250.0,2490.5 C366.7,2490.5 520.2,2491.6 600.0,2490.5 C641.5,2490.0 669.0,2490.5 694.7,2488.0 C712.6,2486.3 730.0,2483.2 740.0,2480.4 C745.2,2478.9 747.7,2477.6 751.5,2475.7 C755.4,2473.7 759.5,2471.9 763.1,2468.8 C767.3,2465.2 770.8,2460.1 774.6,2455.0 C778.9,2449.1 783.5,2442.9 787.1,2435.3 C791.4,2426.3 794.8,2414.6 797.7,2404.2 C800.6,2393.9 802.0,2383.5 804.5,2373.2 C807.0,2362.8 810.0,2352.4 812.6,2342.0 C815.2,2331.7 817.9,2319.6 820.1,2311.0 C821.7,2304.9 823.3,2300.5 824.5,2295.3 C825.7,2290.2 826.5,2285.1 827.5,2280.0 C828.5,2274.8 829.6,2270.1 830.6,2264.2 C831.8,2256.9 833.2,2246.1 834.2,2239.4 C834.9,2234.9 835.3,2231.8 836.0,2228.0 C836.7,2224.0 837.5,2219.8 838.2,2216.0 C838.9,2212.5 839.5,2209.1 840.3,2206.0 C841.0,2203.2 841.7,2200.7 842.6,2198.0 C843.5,2195.3 844.5,2192.6 845.5,2190.0 C846.5,2187.6 847.4,2185.1 848.5,2183.0 C849.5,2181.1 850.7,2177.9 852.0,2177.7 C853.3,2177.6 855.2,2179.8 856.5,2182.0 C858.9,2186.1 860.1,2195.4 861.8,2202.1 C863.5,2208.7 865.2,2216.3 866.5,2222.0 C867.4,2226.2 867.9,2229.2 868.8,2233.0 C869.7,2237.2 871.0,2241.7 872.0,2246.0 C873.0,2250.3 873.8,2254.7 875.0,2259.0 C876.2,2263.2 877.6,2267.8 879.0,2271.5 C880.1,2274.6 881.2,2277.9 882.5,2280.0 C883.4,2281.5 884.5,2283.4 885.5,2283.5 C886.5,2283.6 887.6,2282.1 888.5,2281.0 C889.5,2279.7 890.2,2277.9 891.1,2276.2 C892.1,2274.2 893.2,2271.7 894.1,2269.7 C894.8,2268.0 895.3,2267.0 896.0,2265.0 C897.3,2261.4 899.2,2255.2 901.0,2250.0 C903.0,2244.2 905.9,2237.9 907.5,2231.9 C909.0,2226.1 909.4,2220.4 910.4,2214.6 C911.5,2208.8 912.6,2203.6 913.8,2197.3 C915.3,2189.7 916.9,2182.1 918.7,2172.3 C921.2,2158.4 924.5,2136.4 927.2,2121.8 C929.2,2110.5 929.9,2099.1 933.0,2092.0 C935.0,2087.4 938.2,2081.7 940.6,2081.7 C942.8,2081.7 945.2,2086.3 947.0,2090.0 C949.7,2095.6 951.2,2105.0 952.8,2113.0 C954.6,2121.6 956.0,2131.7 957.1,2140.0 C958.0,2147.2 958.2,2151.7 959.0,2160.0 C960.3,2173.7 962.4,2196.2 964.5,2214.3 C966.6,2232.4 969.2,2250.6 971.5,2268.7 C973.7,2286.8 975.6,2304.9 978.0,2323.0 C980.4,2341.1 982.6,2359.3 985.7,2377.4 C988.8,2395.6 993.4,2417.3 996.5,2431.7 C998.6,2441.2 999.0,2448.7 1002.0,2455.4 C1004.5,2461.1 1007.5,2466.5 1012.0,2469.8 C1016.7,2473.3 1023.1,2474.2 1030.0,2475.5 C1038.6,2477.1 1049.3,2476.7 1060.0,2477.5 C1072.4,2478.4 1083.7,2479.4 1100.0,2480.5 C1125.8,2482.2 1166.7,2484.6 1200.0,2486.0 C1233.3,2487.4 1262.5,2488.3 1300.0,2489.0 C1348.1,2489.9 1410.0,2489.7 1465.0,2490.0" stroke="#80ff00"/>
<path d="M250.0,2490.5 C366.7,2490.5 518.7,2491.1 600.0,2490.5 C643.4,2490.2 674.2,2490.7 700.0,2489.0 C716.4,2487.9 728.5,2486.3 740.0,2484.4 C748.8,2482.9 756.1,2481.7 763.1,2479.2 C769.3,2477.0 774.3,2474.8 780.0,2470.7 C787.6,2465.2 797.3,2455.7 803.3,2447.4 C808.6,2440.0 811.3,2432.8 814.9,2424.1 C819.2,2413.8 823.1,2400.9 826.6,2389.2 C830.1,2377.6 833.2,2365.9 835.9,2354.2 C838.6,2342.6 840.7,2329.1 842.9,2319.3 C844.5,2312.1 845.9,2306.4 847.6,2300.7 C849.1,2295.7 850.4,2290.9 852.2,2286.7 C853.8,2283.0 855.3,2279.1 857.5,2276.5 C859.4,2274.3 862.2,2272.2 864.3,2271.6 C865.8,2271.2 867.2,2271.2 868.6,2271.9 C870.5,2272.9 872.1,2276.4 873.8,2278.4 C875.3,2280.2 876.6,2282.0 878.1,2283.6 C879.5,2285.1 880.9,2287.1 882.4,2287.9 C883.5,2288.5 884.7,2288.5 885.9,2288.5 C887.3,2288.5 889.0,2288.3 890.2,2287.5 C891.6,2286.5 892.5,2284.5 893.3,2282.7 C894.2,2280.8 894.8,2278.5 895.4,2276.2 C896.0,2273.6 896.3,2270.5 896.7,2267.6 C897.1,2264.7 897.6,2261.8 898.0,2258.9 C898.4,2256.0 898.8,2253.8 899.3,2250.3 C900.1,2245.0 901.0,2237.4 902.0,2230.0 C903.2,2221.0 904.3,2209.8 906.0,2200.0 C907.7,2190.5 910.3,2183.0 912.1,2172.3 C914.5,2158.0 916.2,2138.6 918.2,2121.8 C920.2,2105.0 922.3,2088.2 924.2,2071.4 C926.1,2054.6 927.8,2036.8 929.8,2020.9 C931.6,2006.7 932.4,1993.6 935.3,1980.5 C938.2,1967.5 943.2,1942.5 947.1,1942.5 C951.0,1942.5 956.0,1967.5 958.5,1980.5 C961.0,1993.6 960.8,2006.7 962.1,2020.9 C963.5,2036.8 965.2,2054.6 966.6,2071.4 C968.0,2088.2 969.4,2106.2 970.6,2121.8 C971.6,2135.4 972.2,2146.2 973.2,2160.0 C974.3,2176.5 975.6,2196.2 977.0,2214.3 C978.4,2232.4 980.2,2250.6 981.8,2268.7 C983.4,2286.8 985.0,2304.9 986.7,2323.0 C988.4,2341.1 989.9,2359.3 992.2,2377.4 C994.5,2395.5 997.6,2417.3 1000.3,2431.7 C1002.1,2441.3 1003.1,2448.9 1005.7,2455.4 C1007.7,2460.4 1009.6,2464.8 1013.0,2468.0 C1016.4,2471.2 1020.4,2472.8 1025.9,2474.5 C1034.4,2477.1 1048.2,2477.4 1060.0,2478.5 C1072.8,2479.7 1083.7,2480.5 1100.0,2481.5 C1125.8,2483.1 1166.7,2485.2 1200.0,2486.5 C1233.3,2487.8 1262.5,2488.7 1300.0,2489.3 C1348.1,2490.1 1410.0,2489.9 1465.0,2490.2" stroke="#ffa500"/>
<path d="M250.0,2490.3 C396.7,2490.3 616.1,2492.1 690.0,2490.3 C714.9,2489.7 729.2,2488.7 740.0,2487.9 C745.2,2487.5 747.0,2487.2 751.5,2486.7 C757.9,2486.1 766.9,2485.4 774.6,2484.4 C782.3,2483.4 790.0,2482.2 797.7,2480.9 C805.4,2479.7 814.5,2479.0 820.7,2476.9 C825.4,2475.4 828.6,2473.6 832.3,2471.1 C836.3,2468.3 840.1,2464.6 843.8,2460.7 C847.8,2456.5 851.8,2451.7 855.4,2446.9 C859.1,2442.1 862.8,2437.2 865.7,2431.9 C868.6,2426.5 870.6,2420.4 872.7,2414.6 C874.8,2408.9 876.7,2403.1 878.4,2397.3 C880.1,2391.6 881.6,2385.8 883.0,2380.0 C884.4,2374.1 885.8,2368.3 887.0,2362.0 C888.3,2355.1 889.3,2347.6 890.5,2340.0 C891.8,2331.9 893.3,2322.6 894.5,2315.0 C895.6,2308.5 896.6,2302.9 897.5,2297.0 C898.3,2291.4 899.0,2286.1 899.7,2280.6 C900.4,2274.9 900.9,2269.1 901.5,2263.3 C902.1,2257.5 902.7,2252.4 903.2,2246.0 C903.8,2238.2 904.1,2230.0 904.9,2220.0 C906.0,2206.5 908.2,2188.4 909.6,2172.3 C911.1,2155.7 912.3,2138.6 913.6,2121.8 C914.9,2105.0 915.9,2088.2 917.2,2071.4 C918.6,2054.6 920.2,2037.7 921.7,2020.9 C923.2,2004.1 925.1,1985.9 926.2,1970.5 C927.1,1957.6 927.5,1945.0 928.2,1934.9 C928.7,1927.3 929.2,1921.7 929.8,1915.1 C930.3,1908.5 930.9,1902.0 931.5,1895.4 C932.1,1888.8 932.8,1882.2 933.5,1875.6 C934.2,1869.0 934.8,1862.4 935.5,1855.8 C936.2,1849.2 937.0,1842.6 937.8,1836.0 C938.6,1829.4 939.4,1822.8 940.4,1816.2 C941.4,1809.6 943.1,1802.0 944.0,1796.4 C944.7,1792.4 944.2,1788.4 945.5,1786.0 C946.4,1784.3 948.0,1782.4 949.3,1782.4 C950.5,1782.4 952.1,1784.3 953.0,1786.0 C954.3,1788.4 954.5,1792.4 955.2,1796.4 C956.2,1801.9 957.4,1809.6 958.2,1816.2 C959.0,1822.8 959.5,1829.4 960.2,1836.0 C960.9,1842.6 961.6,1849.2 962.2,1855.8 C962.8,1862.4 963.3,1869.0 963.8,1875.6 C964.3,1882.2 964.6,1888.8 965.1,1895.4 C965.6,1902.0 966.3,1908.5 966.8,1915.1 C967.3,1921.7 967.6,1927.3 968.1,1934.9 C968.7,1945.0 969.3,1957.6 970.1,1970.5 C971.0,1985.8 972.2,2004.1 973.2,2020.9 C974.2,2037.7 975.2,2054.6 976.2,2071.4 C977.2,2088.2 978.3,2106.2 979.2,2121.8 C980.0,2135.4 980.6,2146.1 981.3,2160.0 C982.2,2176.5 982.9,2196.2 984.0,2214.3 C985.1,2232.4 986.4,2250.6 987.8,2268.7 C989.2,2286.8 990.6,2304.9 992.2,2323.0 C993.8,2341.1 995.4,2359.3 997.6,2377.4 C999.8,2395.5 1001.9,2417.4 1005.2,2431.7 C1007.4,2441.3 1010.1,2448.6 1012.9,2455.4 C1015.1,2460.9 1016.6,2466.7 1020.1,2469.8 C1023.1,2472.5 1027.1,2472.8 1031.7,2474.1 C1037.9,2475.8 1045.8,2477.5 1054.0,2478.5 C1063.9,2479.7 1077.8,2479.1 1087.0,2480.0 C1093.6,2480.6 1096.9,2481.7 1104.0,2482.5 C1115.8,2483.9 1135.6,2485.5 1151.0,2486.5 C1165.9,2487.5 1177.2,2488.0 1195.0,2488.5 C1222.5,2489.3 1261.1,2489.5 1300.0,2489.8 C1348.8,2490.2 1410.0,2490.1 1465.0,2490.3" stroke="#ff3300"/>
</g>
<text transform="translate(215.00,2503.60) scale(1.0,1.05)" x="0" y="0" font-size="41.5" text-anchor="end" style="font-family:'Liberation Sans',Arial,sans-serif;font-weight:normal" >0.00</text>
<text transform="translate(215.00,2184.43) scale(1.0,1.05)" x="0" y="0" font-size="41.5" text-anchor="end" style="font-family:'Liberation Sans',Arial,sans-serif;font-weight:normal" >0.01</text>
<text transform="translate(215.00,1865.26) scale(1.0,1.05)" x="0" y="0" font-size="41.5" text-anchor="end" style="font-family:'Liberation Sans',Arial,sans-serif;font-weight:normal" >0.02</text>
<text transform="translate(215.00,1546.09) scale(1.0,1.05)" x="0" y="0" font-size="41.5" text-anchor="end" style="font-family:'Liberation Sans',Arial,sans-serif;font-weight:normal" >0.03</text>
<text transform="translate(382.50,2556.60) scale(1.0,1.05)" x="0" y="0" font-size="41.5" text-anchor="middle" style="font-family:'Liberation Sans',Arial,sans-serif;font-weight:normal" >100</text>
<text transform="translate(562.84,2556.60) scale(1.0,1.05)" x="0" y="0" font-size="41.5" text-anchor="middle" style="font-family:'Liberation Sans',Arial,sans-serif;font-weight:normal" >200</text>
<text transform="translate(743.17,2556.60) scale(1.0,1.05)" x="0" y="0" font-size="41.5" text-anchor="middle" style="font-family:'Liberation Sans',Arial,sans-serif;font-weight:normal" >300</text>
<text transform="translate(923.50,2556.60) scale(1.0,1.05)" x="0" y="0" font-size="41.5" text-anchor="middle" style="font-family:'Liberation Sans',Arial,sans-serif;font-weight:normal" >400</text>
<text transform="translate(1103.84,2556.60) scale(1.0,1.05)" x="0" y="0" font-size="41.5" text-anchor="middle" style="font-family:'Liberation Sans',Arial,sans-serif;font-weight:normal" >500</text>
<text transform="translate(1284.17,2556.60) scale(1.0,1.05)" x="0" y="0" font-size="41.5" text-anchor="middle" style="font-family:'Liberation Sans',Arial,sans-serif;font-weight:normal" >600</text>
<text transform="translate(1464.50,2556.60) scale(1.0,1.05)" x="0" y="0" font-size="41.5" text-anchor="middle" style="font-family:'Liberation Sans',Arial,sans-serif;font-weight:normal" >700</text>
<text transform="translate(856.40,2632.90) scale(1.0,1.027)" x="0" y="0" font-size="51.45" text-anchor="middle" style="font-family:'Liberation Sans',Arial,sans-serif;font-weight:normal" >Temperature (°C)</text>
<text x="0.00" y="0.00" font-size="50.45" text-anchor="middle" style="font-family:'Liberation Sans',Arial,sans-serif;font-weight:normal" transform="translate(78,1965.5) rotate(-90)">Derivative of mass loss (%/°C)</text>
<line x1="1127.40" y1="1544.40" x2="1204.40" y2="1544.40" stroke="#6a00ff" stroke-width="5" stroke-linecap="round"/>
<text transform="translate(1214.00,1556.30) scale(1.0,1.01)" x="0" y="0" font-size="34.66" text-anchor="start" style="font-family:'Liberation Sans',Arial,sans-serif;font-weight:normal" >PLA</text>
<line x1="1127.40" y1="1586.57" x2="1204.40" y2="1586.57" stroke="#2b3bff" stroke-width="5" stroke-linecap="round"/>
<text transform="translate(1214.00,1598.47) scale(1.0,1.01)" x="0" y="0" font-size="34.66" text-anchor="start" style="font-family:'Liberation Sans',Arial,sans-serif;font-weight:normal" >PLA_PBAT_15</text>
<line x1="1127.40" y1="1628.74" x2="1204.40" y2="1628.74" stroke="#00bfff" stroke-width="5" stroke-linecap="round"/>
<text transform="translate(1214.00,1640.64) scale(1.0,1.01)" x="0" y="0" font-size="34.66" text-anchor="start" style="font-family:'Liberation Sans',Arial,sans-serif;font-weight:normal" >PLA_PBAT_30</text>
<line x1="1127.40" y1="1670.91" x2="1204.40" y2="1670.91" stroke="#00ff80" stroke-width="5" stroke-linecap="round"/>
<text transform="translate(1214.00,1682.81) scale(1.0,1.01)" x="0" y="0" font-size="34.66" text-anchor="start" style="font-family:'Liberation Sans',Arial,sans-serif;font-weight:normal" >PLA_PBAT_45</text>
<line x1="1127.40" y1="1713.08" x2="1204.40" y2="1713.08" stroke="#80ff00" stroke-width="5" stroke-linecap="round"/>
<text transform="translate(1214.00,1724.98) scale(1.0,1.01)" x="0" y="0" font-size="34.66" text-anchor="start" style="font-family:'Liberation Sans',Arial,sans-serif;font-weight:normal" >PLA_PBAT_60</text>
<line x1="1127.40" y1="1755.25" x2="1204.40" y2="1755.25" stroke="#ffa500" stroke-width="5" stroke-linecap="round"/>
<text transform="translate(1214.00,1767.15) scale(1.0,1.01)" x="0" y="0" font-size="34.66" text-anchor="start" style="font-family:'Liberation Sans',Arial,sans-serif;font-weight:normal" >PLA_PBAT_75</text>
<line x1="1127.40" y1="1797.42" x2="1204.40" y2="1797.42" stroke="#ff3300" stroke-width="5" stroke-linecap="round"/>
<text transform="translate(1214.00,1809.32) scale(1.0,1.01)" x="0" y="0" font-size="34.66" text-anchor="start" style="font-family:'Liberation Sans',Arial,sans-serif;font-weight:normal" >PBAT</text>
<text x="821" y="2808" font-size="86" text-anchor="middle" style="font-family:'Liberation Serif','Times New Roman',serif">(<tspan style="font-weight:bold">b</tspan>)</text>
</svg></body></html>
